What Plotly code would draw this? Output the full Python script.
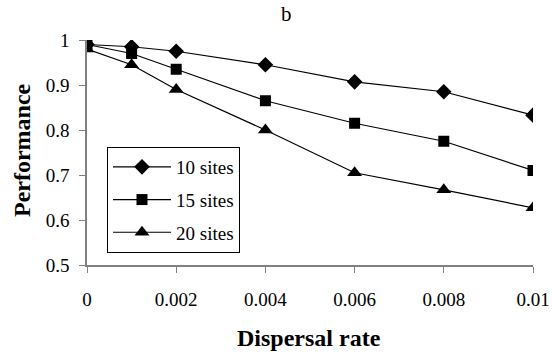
import plotly.graph_objects as go

rates = [0, 0.001, 0.002, 0.004, 0.006, 0.008, 0.01]
sites10 = [0.99, 0.985, 0.975, 0.945, 0.907, 0.885, 0.833]
sites15 = [0.99, 0.97, 0.935, 0.865, 0.815, 0.775, 0.71]
sites20 = [0.98, 0.945, 0.89, 0.80, 0.705, 0.667, 0.627]
names = ["10 sites", "15 sites", "20 sites"]
symbols = ["diamond", "square", "triangle-up"]
sizes = [12, 11, 13]

fig = go.Figure()
for name, vals, sym, sz in zip(names, [sites10, sites15, sites20], symbols, sizes):
    fig.add_trace(go.Scatter(
        x=rates, y=vals, name=name, mode="lines+markers", legendgroup=name,
        line=dict(color="black", width=1.2),
        marker=dict(symbol=sym, size=sz, color="black"),
    ))

font = "Liberation Serif, Times New Roman, serif"
L, R, T, B = 87, 533, 40, 265
def px_x(p):
    return (p - L) / (R - L)
def px_y(p):
    return (B - p) / (B - T)

fig.update_layout(
    width=552, height=355,
    margin=dict(l=L, r=552 - R, t=T, b=355 - B),
    paper_bgcolor="white", plot_bgcolor="white",
    font=dict(family=font, size=19, color="black"),
    showlegend=True,
    legend=dict(x=px_x(107), y=px_y(147), xanchor="left", yanchor="top",
                bordercolor="black", borderwidth=1, bgcolor="white",
                font=dict(size=19, family=font), tracegroupgap=5,
                itemwidth=58),
    xaxis=dict(range=[0, 0.01], tickvals=[0, 0.002, 0.004, 0.006, 0.008, 0.01],
               ticktext=["0", "0.002", "0.004", "0.006", "0.008", "0.01"],
               automargin=False,
               showgrid=False, zeroline=False, showline=True, linecolor="#808080",
               linewidth=1.5, ticks="outside", ticklen=6, tickcolor="#808080",
               tickfont=dict(size=19), ticklabelstandoff=10),
    yaxis=dict(range=[0.5, 1], tickvals=[0.5, 0.6, 0.7, 0.8, 0.9, 1],
               ticktext=["0.5", "0.6", "0.7", "0.8", "0.9", "1"],
               automargin=False,
               showgrid=False, zeroline=False, showline=True, linecolor="#808080",
               linewidth=1.5, ticks="outside", ticklen=6, tickcolor="#808080",
               tickfont=dict(size=19), ticklabelstandoff=6),
    annotations=[
        dict(text="b", x=px_x(286), y=px_y(14), xref="paper", yref="paper",
             xanchor="center", yanchor="middle",
             showarrow=False, font=dict(size=21)),
        dict(text="<b>Dispersal rate</b>", x=px_x(309), y=px_y(338),
             xanchor="center", yanchor="middle",
             xref="paper", yref="paper", showarrow=False, font=dict(size=24)),
        dict(text="<b>Performance</b>", x=px_x(22), y=px_y(150), textangle=-90,
             xanchor="center", yanchor="middle",
             xref="paper", yref="paper", showarrow=False, font=dict(size=24)),
    ],
)
fig.write_html("out.html")
